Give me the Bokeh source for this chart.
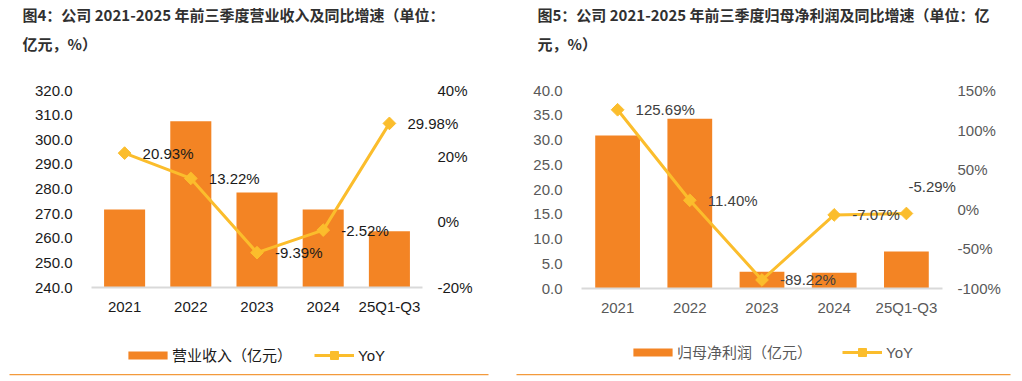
import math
from bokeh.plotting import figure
from bokeh.models import (ColumnDataSource, Range1d, LinearAxis, FixedTicker,
                          PrintfTickFormatter, Label, LabelSet, Legend, LegendItem, BoxAnnotation)
from bokeh.layouts import row
from bokeh.embed import file_html
from bokeh.resources import INLINE
from bokeh.core.properties import value

# ---------------- data ----------------
categories = ["2021", "2022", "2023", "2024", "25Q1-Q3"]

revenue = [271.7, 307.5, 278.6, 271.7, 262.8]           # 营业收入（亿元）
revenue_yoy = [20.93, 13.22, -9.39, -2.52, 29.98]        # YoY %
revenue_ticks = [240, 250, 260, 270, 280, 290, 300, 310, 320]
revenue_yoy_ticks = [-20, 0, 20, 40]

profit = [30.9, 34.3, 3.4, 3.2, 7.5]                     # 归母净利润（亿元）
profit_yoy = [125.69, 11.40, -89.22, -7.07, -5.29]       # YoY %
profit_ticks = [0, 5, 10, 15, 20, 25, 30, 35, 40]
profit_yoy_ticks = [-100, -50, 0, 50, 100, 150]

title4 = ["图4：公司 2021-2025 年前三季度营业收入及同比增速（单位：", "亿元，%）"]
title5 = ["图5：公司 2021-2025 年前三季度归母净利润及同比增速（单位：亿", "元，%）"]
bar_name4 = "营业收入（亿元）"
bar_name5 = "归母净利润（亿元）"
line_name = "YoY"

# ---------------- style ----------------
BAR = "#F38424"
LINE = "#FBBD2C"
RULE = "#F39A3C"
NUM_FONT = "Liberation Sans"
CJK_FONT = "Noto Sans CJK SC"
FIG_W, FIG_H = 509, 379
PAGE_TOP = 0


def chart(fig_x, title, bar_name, vals, yoy, ticks, yoy_ticks, mb_left, mb_right,
          core_l, core_r, base_y, top_y, left_lbl_r, left_so, right_lbl_l, right_so,
          txt_color, lbl_color, title_x, leg_bar_x, leg_line_x, leg_y,
          rule_l, rule_r, rule_y, label_dx, label_dy):
    n = len(categories)
    idx = list(range(n))
    mb_bottom = 4
    fl = fig_x + mb_left                     # frame left (page px)
    fr = fig_x + FIG_W - mb_right            # frame right
    ft = PAGE_TOP                            # frame top
    fb = PAGE_TOP + FIG_H - mb_bottom        # frame bottom
    slot = (core_r - core_l) / n

    def xd(px):                              # page px -> category axis units
        return -0.5 + (px - core_l) / slot

    def yd(py, lo, hi):                      # page px -> value on an axis lo..hi
        return lo + (base_y - py) * (hi - lo) / (base_y - top_y)

    p = figure(title=None, width=FIG_W, height=FIG_H, output_backend="svg",
               toolbar_location=None,
               x_range=Range1d(xd(fl), xd(fr)),
               y_range=Range1d(yd(fb, ticks[0], ticks[-1]), yd(ft, ticks[0], ticks[-1])),
               min_border_left=mb_left, min_border_right=mb_right,
               min_border_top=0, min_border_bottom=mb_bottom,
               x_axis_type=None, y_axis_type=None)
    p.extra_y_ranges = {"yoy": Range1d(yd(fb, yoy_ticks[0], yoy_ticks[-1]),
                                       yd(ft, yoy_ticks[0], yoy_ticks[-1]))}
    p.outline_line_color = None
    p.grid.visible = False

    src = ColumnDataSource(dict(x=idx, val=vals, yoy=yoy,
                                lbl=["%.2f%%" % v for v in yoy],
                                dx=label_dx, dy=label_dy))

    bars = p.vbar(x="x", top="val", bottom=ticks[0], width=0.62, source=src,
                  fill_color=BAR, line_color=None)
    ln = p.line(x="x", y="yoy", source=src, y_range_name="yoy", line_color=LINE, line_width=3)
    mk = p.scatter(x="x", y="yoy", source=src, y_range_name="yoy", marker="square",
                   angle=math.pi / 4, size=9, fill_color=LINE, line_color=LINE)

    p.add_layout(LabelSet(x="x", y="yoy", text="lbl", source=src, y_range_name="yoy",
                          x_offset="dx", y_offset="dy", text_align="left",
                          text_baseline="middle", text_font=value(NUM_FONT),
                          text_font_size=value("15px"), text_color=lbl_color))

    def style(ax, color=txt_color):
        ax.axis_line_color = None
        ax.major_tick_line_color = None
        ax.minor_tick_line_color = None
        ax.major_tick_out = 0
        ax.major_tick_in = 0
        ax.minor_tick_out = 0
        ax.minor_tick_in = 0
        ax.major_label_text_font = NUM_FONT
        ax.major_label_text_font_size = "15px"
        ax.major_label_text_color = color

    # left value axis
    ly = LinearAxis(ticker=FixedTicker(ticks=ticks), formatter=PrintfTickFormatter(format="%.1f"),
                    fixed_location=xd(left_lbl_r + left_so), major_label_standoff=left_so)
    style(ly)
    p.add_layout(ly, "left")
    # right YoY axis
    ry = LinearAxis(y_range_name="yoy", ticker=FixedTicker(ticks=yoy_ticks),
                    formatter=PrintfTickFormatter(format="%d%%"),
                    fixed_location=xd(right_lbl_l - right_so), major_label_standoff=right_so)
    style(ry)
    p.add_layout(ry, "right")
    # category baseline axis
    xb = LinearAxis(ticker=FixedTicker(ticks=idx), fixed_location=ticks[0],
                    bounds=(-0.5, n - 0.5), major_label_standoff=0)
    style(xb)
    xb.axis_line_color = "#D9D9D9"
    xb.axis_line_width = 2
    xb.major_label_text_font_size = "0px"
    xb.major_label_overrides = {i: "" for i in idx}
    p.add_layout(xb, "below")
    # category label axis
    lab_so = -15
    xl = LinearAxis(ticker=FixedTicker(ticks=idx),
                    fixed_location=yd(297 - lab_so + (base_y - 287), ticks[0], ticks[-1]),
                    major_label_standoff=lab_so)
    style(xl)
    xl.major_label_overrides = {i: c for i, c in zip(idx, categories)}
    p.add_layout(xl, "below")

    # title lines
    for i, txt in enumerate(title):
        p.add_layout(Label(x=title_x - fl, y=fb - (14 + 29 * i), x_units="screen",
                           y_units="screen", text=txt, text_font=CJK_FONT,
                           text_font_style="bold", text_font_size="15px",
                           text_color="#303030", text_baseline="middle", text_align="left"))

    # legends (two, so that the bar swatch can be thin while the marker stays visible)
    leg1 = Legend(items=[LegendItem(label=bar_name, renderers=[bars])],
                  location=(leg_bar_x - fl, fb - leg_y - 10), glyph_width=49, glyph_height=10,
                  label_height=10, label_standoff=0, padding=0, margin=0,
                  border_line_color=None, background_fill_alpha=0,
                  label_text_font=CJK_FONT, label_text_font_size="15px",
                  label_text_color=txt_color)
    leg2 = Legend(items=[LegendItem(label=line_name, renderers=[ln, mk])],
                  location=(leg_line_x - fl, fb - leg_y - 10), glyph_width=40, glyph_height=20,
                  label_height=20, label_standoff=4, padding=0, margin=0,
                  border_line_color=None, background_fill_alpha=0,
                  label_text_font=NUM_FONT, label_text_font_size="15px",
                  label_text_color=txt_color)
    p.add_layout(leg1)
    p.add_layout(leg2)

    # orange rule under the chart
    p.add_layout(BoxAnnotation(left=rule_l - fl, right=rule_r - fl,
                               bottom=fb - rule_y - 1, top=fb - rule_y + 0.5,
                               left_units="screen", right_units="screen",
                               bottom_units="screen", top_units="screen",
                               fill_color=RULE, fill_alpha=1, line_color=None,
                               line_alpha=0))
    return p


p1 = chart(0, title4, bar_name4, revenue, revenue_yoy, revenue_ticks, revenue_yoy_ticks,
           mb_left=4, mb_right=8, core_l=91, core_r=422, base_y=287, top_y=90,
           left_lbl_r=72, left_so=-35, right_lbl_l=437, right_so=-30,
           txt_color="#1a1a1a", lbl_color="#1a1a1a", title_x=22,
           leg_bar_x=123, leg_line_x=314, leg_y=355,
           rule_l=9, rule_r=488, rule_y=374,
           label_dx=[18] * 5, label_dy=[0] * 5)

dx5 = [18] * 5
dy5 = [0] * 5
dx5[4], dy5[4] = 2, 27
p2 = chart(FIG_W, title5, bar_name5, profit, profit_yoy, profit_ticks, profit_yoy_ticks,
           mb_left=4, mb_right=8, core_l=581, core_r=942, base_y=288, top_y=90,
           left_lbl_r=562, left_so=-26, right_lbl_l=957, right_so=-38,
           txt_color="#595959", lbl_color="#404040", title_x=537,
           leg_bar_x=628, leg_line_x=842, leg_y=352,
           rule_l=516, rule_r=1012, rule_y=374,
           label_dx=dx5, label_dy=dy5)

layout = row(p1, p2)
open("out.html", "w").write(file_html(layout, INLINE))
